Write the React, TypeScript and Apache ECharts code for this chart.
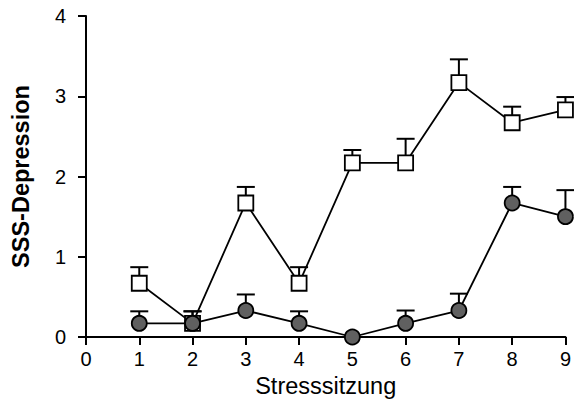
import React, { useEffect, useRef } from "react";
import * as echarts from "echarts";

const sessions = [1, 2, 3, 4, 5, 6, 7, 8, 9];
const squareMeans = [0.67, 0.17, 1.67, 0.67, 2.17, 2.17, 3.17, 2.67, 2.83];
const squareUpper = [0.87, 0.32, 1.87, 0.87, 2.33, 2.47, 3.46, 2.87, 2.99];
const circleMeans = [0.17, 0.17, 0.33, 0.17, 0.0, 0.17, 0.33, 1.67, 1.5];
const circleUpper = [0.32, 0.32, 0.53, 0.32, 0.0, 0.33, 0.54, 1.87, 1.83];
const xTicks = [0, 1, 2, 3, 4, 5, 6, 7, 8, 9];
const yTicks = [0, 1, 2, 3, 4];

const FONT = "'Liberation Sans', Arial, Helvetica, sans-serif";

function errorSeries(means: number[], uppers: number[], z: number) {
  return {
    type: "custom",
    z,
    silent: true,
    clip: false,
    data: sessions.map((s, i) => [s, means[i], uppers[i]]),
    renderItem: (params: any, api: any) => {
      const x = api.value(0);
      const y = api.value(1);
      const top = api.value(2);
      if (top <= y) return { type: "group", children: [] };
      const p0 = api.coord([x, y]);
      const p1 = api.coord([x, top]);
      const style = { stroke: "#000", lineWidth: 2 };
      return {
        type: "group",
        children: [
          { type: "line", shape: { x1: p0[0], y1: p0[1], x2: p1[0], y2: p1[1] }, style },
          { type: "line", shape: { x1: p1[0] - 9, y1: p1[1], x2: p1[0] + 9, y2: p1[1] }, style },
        ],
      };
    },
  };
}

export default function App() {
  const ref = useRef<HTMLDivElement>(null);
  useEffect(() => {
    document.body.style.margin = "0";
    const chart = echarts.init(ref.current!, undefined, { renderer: "svg" });
    chart.setOption({
      animation: false,
      backgroundColor: "#fff",
      textStyle: { fontFamily: FONT },
      grid: { left: 86, right: 8, top: 16, bottom: 78, containLabel: false },
      xAxis: {
        type: "value",
        min: xTicks[0],
        max: xTicks[xTicks.length - 1],
        interval: 1,
        name: "Stresssitzung",
        nameLocation: "middle",
        nameGap: 34,
        nameTextStyle: { fontSize: 23.5, color: "#000", fontFamily: FONT },
        axisLine: { lineStyle: { color: "#000", width: 2 } },
        axisTick: { show: true, length: 8, lineStyle: { color: "#000", width: 2 } },
        axisLabel: { fontSize: 20, color: "#000", margin: 12, fontFamily: FONT },
        splitLine: { show: false },
      },
      yAxis: {
        type: "value",
        min: yTicks[0],
        max: yTicks[yTicks.length - 1],
        interval: 1,
        name: "SSS-Depression",
        nameLocation: "middle",
        nameGap: 53,
        nameTextStyle: { fontSize: 23.5, fontWeight: "bold", color: "#000", fontFamily: FONT },
        axisLine: { show: true, lineStyle: { color: "#000", width: 2 } },
        axisTick: { show: true, length: 8, lineStyle: { color: "#000", width: 2 } },
        axisLabel: { fontSize: 20, color: "#000", margin: 20, fontFamily: FONT },
        splitLine: { show: false },
      },
      series: [
        errorSeries(squareMeans, squareUpper, 1),
        errorSeries(circleMeans, circleUpper, 1),
        {
          type: "line",
          z: 2,
          clip: false,
          data: sessions.map((s, i) => [s, squareMeans[i]]),
          symbol: "rect",
          symbolSize: 15,
          lineStyle: { color: "#000", width: 1.8 },
          itemStyle: { color: "#fff", borderColor: "#000", borderWidth: 1.8 },
        },
        {
          type: "line",
          z: 3,
          clip: false,
          data: sessions.map((s, i) => [s, circleMeans[i]]),
          symbol: "circle",
          symbolSize: 15,
          lineStyle: { color: "#000", width: 1.8 },
          itemStyle: { color: "#606060", borderColor: "#000", borderWidth: 1.8 },
        },
      ],
    });
    return () => chart.dispose();
  }, []);
  return <div ref={ref} style={{ width: 574, height: 415 }} />;
}
